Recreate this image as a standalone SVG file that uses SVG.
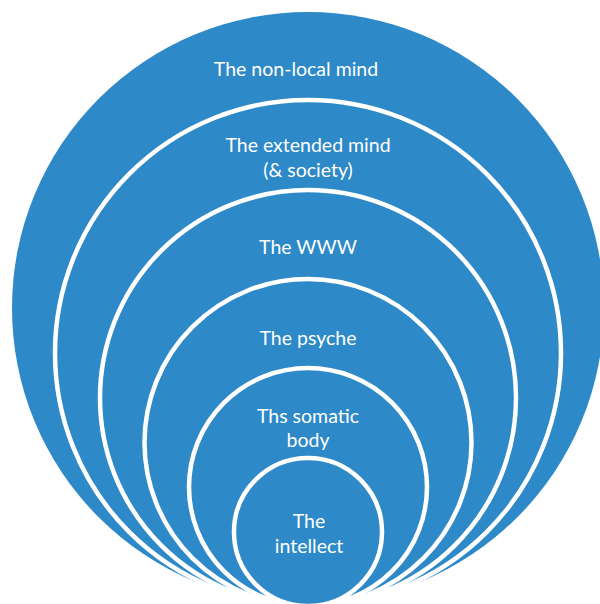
<svg xmlns="http://www.w3.org/2000/svg" width="600" height="604" viewBox="0 0 600 604">
  <style>
    .ring { fill: #2D89C7; stroke: #FFFFFF; stroke-width: 4.5; }
    .outer { fill: #2D89C7; stroke: none; }
    .label { fill: #FFFFFF; font-family: "Lato", "Liberation Sans", sans-serif; font-size: 19.5px; text-anchor: middle; }
  </style>
  <rect width="600" height="604" fill="#FFFFFF"/>
  <!-- Nested circles, all touching at the bottom -->
  <g id="non-local-mind">
    <circle class="outer" cx="308" cy="308" r="296"/>
    <text class="label" x="296" y="76">The non-local mind</text>
  </g>
  <g id="extended-mind">
    <circle class="ring" cx="308" cy="353" r="253"/>
    <text class="label" x="308" y="152">The extended mind</text>
    <text class="label" x="308" y="177">(&amp; society)</text>
  </g>
  <g id="www">
    <circle class="ring" cx="308" cy="398" r="208"/>
    <text class="label" x="308" y="254">The WWW</text>
  </g>
  <g id="psyche">
    <circle class="ring" cx="308" cy="442.5" r="163.5"/>
    <text class="label" x="308" y="345">The psyche</text>
  </g>
  <g id="somatic-body">
    <circle class="ring" cx="308" cy="487" r="119"/>
    <text class="label" x="308" y="423">Ths somatic</text>
    <text class="label" x="308" y="447">body</text>
  </g>
  <g id="intellect">
    <circle class="ring" cx="308" cy="532" r="74"/>
    <text class="label" x="309" y="528">The</text>
    <text class="label" x="309" y="553">intellect</text>
  </g>
  <g id="connectors"/>
</svg>
